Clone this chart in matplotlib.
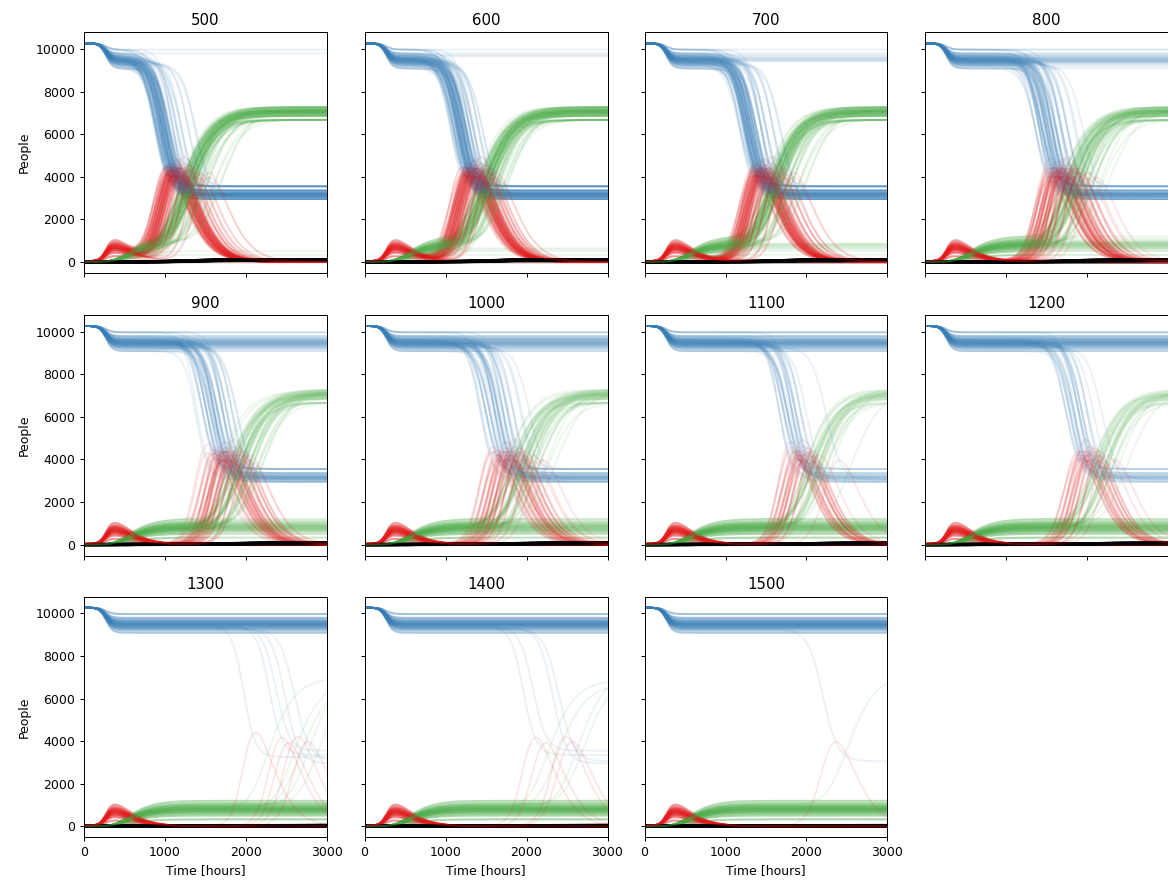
import math
import numpy as np
import matplotlib
matplotlib.use("Agg")
import matplotlib.pyplot as plt

# ---------------------------------------------------------------------------
# Ensemble of epidemic runs for different lockdown durations [hours]
# ---------------------------------------------------------------------------
POPULATION = 10300
SEED_CASES = 30
RUNS = 100

durations = [500, 600, 700, 800, 900, 1000, 1100, 1200, 1300, 1400, 1500]

# size of the first (lockdown) wave, cycled over the runs
first_wave_sizes = [300, 480, 560, 620, 660, 700, 730, 760, 790,
                    820, 850, 880, 920, 960, 1010, 1080, 1180]

# susceptibles left once a second wave has burnt out, cycled over the runs
second_wave_final_s = [2950, 3050, 3120, 3180, 3250, 3350, 3550]

# steepness of the second wave [hours], cycled over the runs
second_wave_widths = [72, 78, 82, 86, 92]

# second-wave midpoint [hours] and number of runs reaching it at that time
second_wave_500 = [(870, 6), (900, 10), (930, 14), (960, 16), (990, 16),
                   (1020, 12), (1050, 8), (1090, 5), (1140, 4), (1200, 3),
                   (1280, 2), (1380, 2)]
second_wave_600 = [(1060, 4), (1100, 9), (1130, 13), (1160, 15), (1190, 15),
                   (1220, 13), (1250, 10), (1290, 7), (1340, 5), (1400, 3),
                   (1460, 2)]
second_wave_700 = [(1180, 5), (1220, 10), (1250, 13), (1280, 14), (1310, 13),
                   (1340, 11), (1380, 8), (1430, 6), (1500, 4), (1580, 3),
                   (1680, 2)]
second_wave_800 = [(1370, 4), (1410, 7), (1450, 9), (1490, 10), (1530, 10),
                   (1570, 9), (1620, 8), (1680, 6), (1760, 4), (1860, 2),
                   (1960, 1)]
second_wave_900 = [(1380, 2), (1450, 4), (1510, 6), (1560, 8), (1600, 8),
                   (1650, 7), (1700, 6), (1760, 4), (1820, 3), (1890, 2)]
second_wave_1000 = [(1430, 3), (1490, 5), (1550, 6), (1600, 7), (1650, 7),
                    (1700, 6), (1760, 5), (1830, 3), (1930, 2), (2040, 1)]
second_wave_1100 = [(1660, 3), (1710, 5), (1760, 6), (1810, 6), (1860, 5),
                    (1920, 3), (2000, 1), (2240, 1)]
second_wave_1200 = [(1740, 3), (1790, 5), (1840, 6), (1890, 5), (1940, 4),
                    (2000, 3), (2090, 1), (2190, 1)]
second_wave_1300 = [(1970, 1), (2290, 1), (2370, 1), (2480, 1), (2600, 1)]
second_wave_1400 = [(1960, 1), (2080, 1), (2325, 1), (2400, 1)]
second_wave_1500 = [(2200, 1)]

second_waves = [second_wave_500, second_wave_600, second_wave_700,
                second_wave_800, second_wave_900, second_wave_1000,
                second_wave_1100, second_wave_1200, second_wave_1300,
                second_wave_1400, second_wave_1500]

# ---------------------------------------------------------------------------
# Compartment curves of one run
# ---------------------------------------------------------------------------
FIRST_WAVE_MID = 270.0
FIRST_WAVE_WIDTH = 40.0
RECOVERY_MEAN = 370.0      # mean infectious period [hours]
RECOVERY_SHAPE = 3         # Erlang shape of the infectious period
FATALITY = 0.012

t = np.arange(0, 3001, 5.0)
u = RECOVERY_SHAPE / RECOVERY_MEAN * t
recovery_cdf = 1.0 - np.exp(-u) * sum(u ** n / math.factorial(n)
                                      for n in range(RECOVERY_SHAPE))


def logistic(x):
    return 1.0 / (1.0 + np.exp(-x))


def run_curves(a1, mid2=None, width2=None, final_s=None):
    cum = SEED_CASES + a1 * logistic((t - FIRST_WAVE_MID) / FIRST_WAVE_WIDTH)
    if mid2 is not None:
        a2 = POPULATION - SEED_CASES - a1 - final_s
        cum = cum + a2 * logistic((t - mid2) / width2)
    new = np.diff(cum, prepend=0.0)
    removed = np.convolve(new, recovery_cdf)[:t.size]
    s = POPULATION - cum
    i = cum - removed
    d = FATALITY * removed
    r = removed - d
    return s, i, r, d


C_S, C_I, C_R, C_D = "#377eb8", "#e41a1c", "#4daf4a", "black"
ALPHA = 0.1

# ---------------------------------------------------------------------------
# Figure
# ---------------------------------------------------------------------------
W, H, DPI = 1168, 885, 90
fig, axes = plt.subplots(3, 4, sharex=True, sharey=True,
                         figsize=(W / DPI, H / DPI), dpi=DPI)
axes[2, 3].remove()

col_left = [84, 364.5, 644.5, 924.5]
row_top = [32.3, 315, 596.7]
ax_w, ax_h = 243, 240.5

for k, (dur, waves) in enumerate(zip(durations, second_waves)):
    row, col = divmod(k, 4)
    ax = axes[row, col]
    ax.set_position([col_left[col] / W, 1 - (row_top[row] + ax_h) / H,
                     ax_w / W, ax_h / H])

    mids = [m for m, n in waves for _ in range(n)]
    n_quiet = RUNS - len(mids)
    for run in range(RUNS):
        a1 = first_wave_sizes[run % len(first_wave_sizes)]
        if run < n_quiet:
            s, i, r, d = run_curves(a1)
        else:
            s, i, r, d = run_curves(
                a1, mids[run - n_quiet],
                second_wave_widths[run % len(second_wave_widths)],
                second_wave_final_s[run % len(second_wave_final_s)])
        ax.plot(t, s, color=C_S, alpha=ALPHA, lw=1.5)
        ax.plot(t, i, color=C_I, alpha=ALPHA, lw=1.5)
        ax.plot(t, r, color=C_R, alpha=ALPHA, lw=1.5)
        ax.plot(t, d, color=C_D, alpha=ALPHA, lw=2.5)

    ax.set_title(str(dur))
    if col == 0:
        ax.set_ylabel("People")
    if row == 2:
        ax.set_xlabel("Time [hours]")

axes[0, 0].set_xlim(0, 3000)
axes[0, 0].set_xticks([0, 1000, 2000, 3000])
axes[0, 0].set_yticks([0, 2000, 4000, 6000, 8000, 10000])
for ax in axes[1, 3:]:
    ax.tick_params(labelbottom=False)

fig.savefig("out.png", dpi=DPI)
